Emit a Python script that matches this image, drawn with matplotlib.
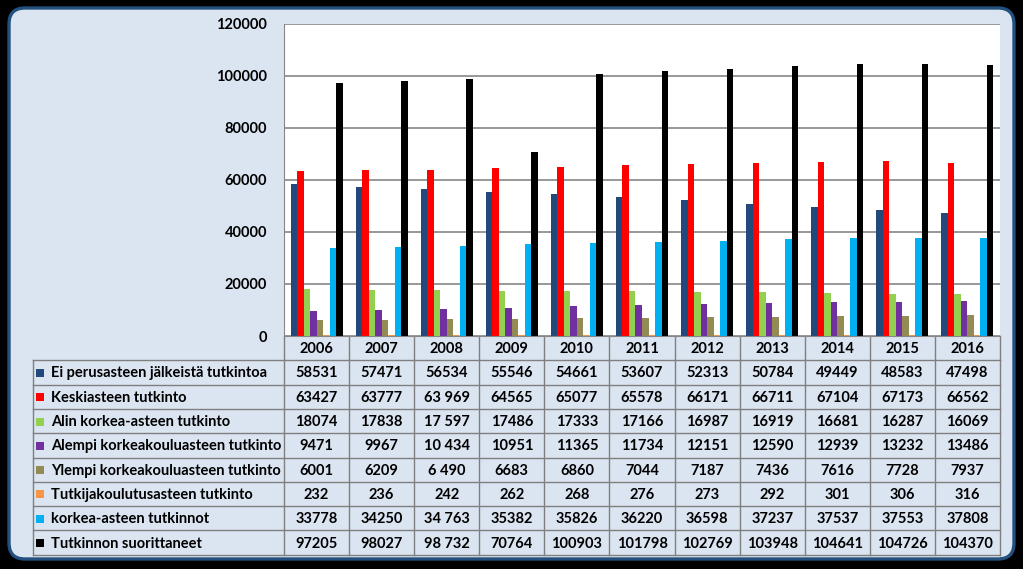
import matplotlib
matplotlib.use("Agg")
import matplotlib.pyplot as plt
import numpy as np
from matplotlib.patches import FancyBboxPatch, Rectangle

plt.rcParams['font.family'] = ['Lato', 'DejaVu Sans']

# ---- data ----
years = ['2006', '2007', '2008', '2009', '2010', '2011', '2012', '2013', '2014', '2015', '2016']
series_names = [
    'Ei perusasteen jälkeistä tutkintoa',
    'Keskiasteen tutkinto',
    'Alin korkea-asteen tutkinto',
    'Alempi korkeakouluasteen tutkinto',
    'Ylempi korkeakouluasteen tutkinto',
    'Tutkijakoulutusasteen tutkinto',
    'korkea-asteen tutkinnot',
    'Tutkinnon suorittaneet',
]
ei_perus = [58531, 57471, 56534, 55546, 54661, 53607, 52313, 50784, 49449, 48583, 47498]
keskiaste = [63427, 63777, 63969, 64565, 65077, 65578, 66171, 66711, 67104, 67173, 66562]
alin_korkea = [18074, 17838, 17597, 17486, 17333, 17166, 16987, 16919, 16681, 16287, 16069]
alempi_kk = [9471, 9967, 10434, 10951, 11365, 11734, 12151, 12590, 12939, 13232, 13486]
ylempi_kk = [6001, 6209, 6490, 6683, 6860, 7044, 7187, 7436, 7616, 7728, 7937]
tutkija = [232, 236, 242, 262, 268, 276, 273, 292, 301, 306, 316]
korkea_yht = [33778, 34250, 34763, 35382, 35826, 36220, 36598, 37237, 37537, 37553, 37808]
suorittaneet = [97205, 98027, 98732, 70764, 100903, 101798, 102769, 103948, 104641, 104726, 104370]
series = [ei_perus, keskiaste, alin_korkea, alempi_kk, ylempi_kk, tutkija, korkea_yht, suorittaneet]
# the 2008 column of the source table uses a space as thousands separator
spaced_2008 = [False, True, True, True, True, False, True, True]

colors = ['#23497c', '#ff0000', '#92d050', '#7030a0', '#948a54', '#f79646', '#00b0f0', '#000000']

W, H = 1023, 569
fig = plt.figure(figsize=(W / 100, H / 100), dpi=100)
fig.patch.set_facecolor('black')

# background panel in pixel coordinates
bg = fig.add_axes([0, 0, 1, 1])
bg.set_xlim(0, W)
bg.set_ylim(H, 0)
bg.axis('off')
bg.add_patch(FancyBboxPatch((9, 8), 1005, 551, boxstyle='round,pad=0,rounding_size=16',
                            facecolor='#dbe5f1', edgecolor='#24507f', lw=2.4))

# plot area
left, right, top, bottom = 284, 1000, 24, 336
ax = fig.add_axes([left / W, 1 - bottom / H, (right - left) / W, (bottom - top) / H])
ax.set_facecolor('white')
x = np.arange(len(years))
bw = 0.1
for i, (vals, c) in enumerate(zip(series, colors)):
    ax.bar(x + (i - 3.5) * bw, vals, width=bw, color=c, label=series_names[i])
ax.set_xlim(-0.5, len(years) - 0.5)
ax.set_ylim(0, 120000)
ax.set_yticks(range(0, 120001, 20000))
ax.set_yticklabels([str(v) for v in range(0, 120001, 20000)], fontsize=10.5, fontweight='bold')
ax.tick_params(axis='y', length=0, pad=12)
ax.set_xticks([])
ax.yaxis.grid(True, color='#868686', lw=1.2)
ax.set_axisbelow(True)
for s in ['top', 'right']:
    ax.spines[s].set_visible(False)
ax.spines['left'].set_color('#868686')
ax.spines['bottom'].set_color('#868686')

# data table below the plot
tab_left = 33
col_w = (right - left) / len(years)
row_h = 24.3
line_c = '#7f7f7f'
# header row with years
y0 = bottom
for j, yr in enumerate(years):
    cx = left + (j + 0.5) * col_w
    bg.text(cx, y0 + row_h / 2 + 1, yr, ha='center', va='center', fontsize=10.5, fontweight='bold')
for j in range(len(years) + 1):
    bg.plot([left + j * col_w] * 2, [y0, y0 + row_h], color=line_c, lw=1)
# series rows
for i, name in enumerate(series_names):
    ry = y0 + row_h * (i + 1)
    bg.plot([tab_left, right], [ry, ry], color=line_c, lw=1)
    cy = ry + row_h / 2 + 1
    bg.add_patch(Rectangle((36, cy - 4.5), 8, 8, facecolor=colors[i], edgecolor='none'))
    bg.text(51, cy, name, ha='left', va='center', fontsize=10.5, fontweight='bold')
    for j, v in enumerate(series[i]):
        txt = str(v)
        if years[j] == '2008' and spaced_2008[i]:
            txt = f"{v:,}".replace(',', ' ')
        bg.text(left + (j + 0.5) * col_w, cy, txt, ha='center', va='center',
                fontsize=10.5, fontweight='bold')
bot_y = y0 + row_h * (len(series_names) + 1)
bg.plot([tab_left, right], [bot_y, bot_y], color=line_c, lw=1)
bg.plot([tab_left, tab_left], [y0 + row_h, bot_y], color=line_c, lw=1)
for j in range(len(years) + 1):
    bg.plot([left + j * col_w] * 2, [y0 + row_h, bot_y], color=line_c, lw=1)

fig.savefig('out.png', dpi=100, facecolor=fig.get_facecolor())
